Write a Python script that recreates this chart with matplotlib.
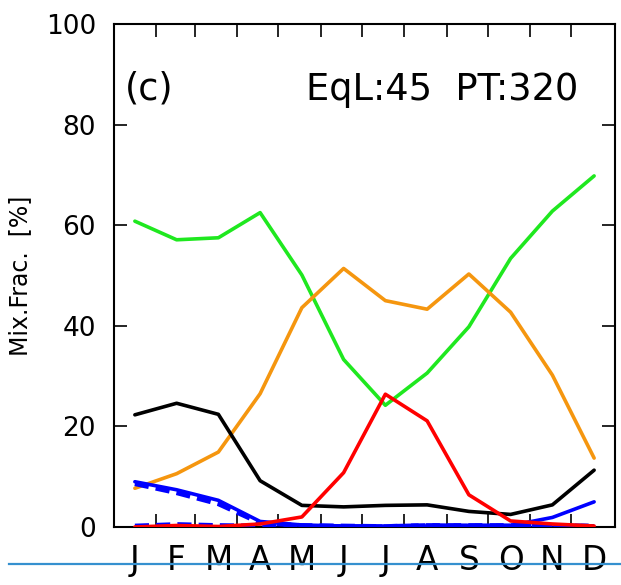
import matplotlib
matplotlib.use("Agg")
import matplotlib.pyplot as plt
from matplotlib.lines import Line2D
import numpy as np

# Monthly mixing fractions [%]
months = ["J", "F", "M", "A", "M", "J", "J", "A", "S", "O", "N", "D"]
green = [60.8, 57.1, 57.5, 62.5, 50.1, 33.3, 24.2, 30.6, 39.8, 53.4, 62.8, 69.8]
orange = [7.7, 10.6, 14.9, 26.5, 43.6, 51.4, 45.0, 43.3, 50.3, 42.7, 30.2, 13.7]
black = [22.3, 24.6, 22.4, 9.2, 4.3, 4.0, 4.3, 4.4, 3.1, 2.5, 4.4, 11.3]
red = [0.0, 0.3, 0.1, 0.6, 2.0, 10.8, 26.4, 21.1, 6.4, 1.2, 0.6, 0.2]
blue = [9.0, 7.4, 5.3, 1.1, 0.4, 0.2, 0.1, 0.2, 0.3, 0.3, 1.9, 5.0]
blue_dash_a = [8.6, 6.8, 4.6, 0.8, 0.3, 0.2, 0.1, 0.3, 0.3, 0.3, 0.3, 0.2]
blue_dash_b = [0.2, 0.5, 0.3, 0.2, 0.1, 0.1, 0.1, 0.3, 0.2, 0.2, 0.3, 0.1]
month_ends = [31, 59, 90, 120, 151, 181, 212, 243, 273, 304, 334]
y_ticks = [0, 20, 40, 60, 80, 100]

days = (np.arange(12) + 0.5) * 30.5

fig = plt.figure(figsize=(6.21, 5.85), dpi=100)
ax = fig.add_axes([114 / 621, 58 / 585, 501 / 621, 503 / 585])

lw = 2.6
ax.plot(days, green, color="#1fe81f", lw=lw, solid_capstyle="round", zorder=3)
ax.plot(days, orange, color="#f5960f", lw=lw, solid_capstyle="round", zorder=3)
ax.plot(days, black, color="black", lw=lw, solid_capstyle="round", zorder=3)
ax.plot(days, blue_dash_b, color="#0000ff", lw=3.4, ls=(0, (3, 1.5)), zorder=3)
ax.plot(days, blue_dash_a, color="#0000ff", lw=3.4, ls=(0, (3, 1.5)), zorder=3)
ax.plot(days, blue, color="#0000ff", lw=lw, solid_capstyle="round", zorder=3)
ax.plot(days, red, color="#ff0000", lw=lw, solid_capstyle="round", zorder=3)

ax.set_xlim(0, 366)
ax.set_ylim(0, 100)

# month boundaries as inward ticks, month letters at mid-month
ax.set_xticks(month_ends)
ax.set_xticklabels([])
ax.set_xticks(days, minor=True)
ax.set_xticklabels(months, minor=True, fontsize=23.5, family="DejaVu Sans")
ax.tick_params(axis="x", which="major", direction="in", length=9.5, width=1.2,
               top=True, bottom=True)
ax.tick_params(axis="x", which="minor", length=0, pad=12)

ax.set_yticks(y_ticks)
ax.set_yticklabels([str(v) for v in y_ticks], fontsize=19, family="DejaVu Sans")
ax.tick_params(axis="y", direction="in", length=9.5, width=1.2,
               left=True, right=True, pad=13)

for s in ax.spines.values():
    s.set_linewidth(1.5)

ax.set_ylabel("Mix.Frac.  [%]", fontsize=17, family="DejaVu Sans")
ax.yaxis.set_label_coords(-0.164, 0.5)

ax.text(0.022, 0.849, "(c)", transform=ax.transAxes, fontsize=26.5,
        va="baseline", ha="left", family="DejaVu Sans")
ax.text(0.926, 0.849, "EqL:45  PT:320", transform=ax.transAxes, fontsize=26.5,
        va="baseline", ha="right", family="DejaVu Sans")

fig.add_artist(Line2D([9 / 621, 1.0], [21 / 585, 21 / 585],
                      color="#3590cf", lw=1.6, transform=fig.transFigure,
                      zorder=5))

fig.savefig("out.png", dpi=100)
